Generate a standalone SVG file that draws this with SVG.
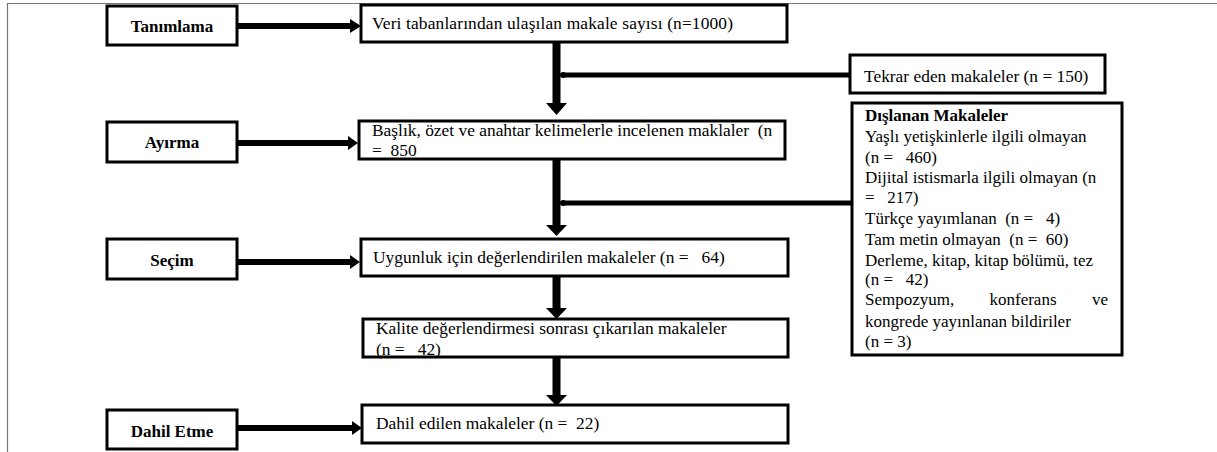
<svg xmlns="http://www.w3.org/2000/svg" width="1217" height="452" viewBox="0 0 1217 452">
<style>
.box{fill:#fff;stroke:#000;stroke-width:3}
.t{font-family:'Liberation Serif','Times New Roman',Times,'DejaVu Serif',serif;font-size:17px;fill:#000}
.m{font-size:17.4px}
.b{font-weight:bold;text-anchor:middle}
.line{stroke:#000;fill:none}
</style>
<rect width="1217" height="452" fill="#fff"/>
<path d="M7.5 452 V3.5 H1217" stroke="#777" stroke-width="1.2" fill="none"/>
<g id="connectors">
  <g class="line" stroke-width="6">
    <line x1="237" y1="26" x2="352" y2="26"/>
    <line x1="237" y1="143" x2="350" y2="143"/>
    <line x1="237" y1="262" x2="352" y2="262"/>
    <line x1="237" y1="428" x2="354" y2="428"/>
  </g>
  <g fill="#000">
    <polygon points="350,19 361,26 350,33"/>
    <polygon points="348,136 358,143 348,150"/>
    <polygon points="350,255 360,262 350,269"/>
    <polygon points="352,421 362,428 352,435"/>
  </g>
  <g class="line" stroke-width="8">
    <line x1="556.5" y1="42" x2="556.5" y2="104"/>
    <line x1="556.5" y1="159" x2="556.5" y2="226"/>
    <line x1="556.5" y1="276" x2="556.5" y2="310"/>
    <line x1="556.5" y1="357" x2="556.5" y2="396"/>
  </g>
  <g fill="#000">
    <polygon points="546,103 567,103 556.5,115"/>
    <polygon points="546,225 567,225 556.5,236"/>
    <polygon points="546,308 567,308 556.5,319"/>
    <polygon points="546,395 567,395 556.5,406"/>
  </g>
  <g class="line" stroke-width="5">
    <line x1="563" y1="75" x2="850" y2="75"/>
    <line x1="563" y1="203" x2="852" y2="203"/>
  </g>
  <circle cx="563" cy="75" r="3" fill="#000"/>
  <circle cx="563" cy="203" r="3" fill="#000"/>
</g>
<g id="n-tanimlama"><rect class="box" x="107" y="6" width="130" height="39"/><text class="t b" x="172" y="32">Tanımlama</text></g>
<g id="n-ayirma"><rect class="box" x="107" y="122" width="130" height="40"/><text class="t b" x="172" y="148">Ayırma</text></g>
<g id="n-secim"><rect class="box" x="107" y="239" width="130" height="40"/><text class="t b" x="172" y="266">Seçim</text></g>
<g id="n-dahiletme"><rect class="box" x="107" y="410" width="130" height="39"/><text class="t b" x="172" y="437">Dahil Etme</text></g>
<g id="n-veri"><rect class="box" x="361" y="5" width="426" height="37"/><text class="t m" x="372" y="29" textLength="361" lengthAdjust="spacing">Veri tabanlarından ulaşılan makale sayısı (n=1000)</text></g>
<g id="n-baslik"><rect class="box" x="359" y="121" width="426" height="38"/><text class="t m" x="372" y="136" xml:space="preserve">Başlık, özet ve anahtar kelimelerle incelenen maklaler  (n</text><text class="t m" x="372" y="156" xml:space="preserve">=  850</text></g>
<g id="n-uygunluk"><rect class="box" x="361" y="239" width="427" height="37"/><text class="t m" x="373" y="263" xml:space="preserve">Uygunluk için değerlendirilen makaleler (n =   64)</text></g>
<g id="n-kalite"><rect class="box" x="363" y="319" width="425" height="38"/><text class="t m" x="376" y="334">Kalite değerlendirmesi sonrası çıkarılan makaleler</text><text class="t m" x="376" y="355" xml:space="preserve">(n =   42)</text></g>
<g id="n-dahil"><rect class="box" x="362" y="405" width="426" height="38"/><text class="t m" x="376" y="429" xml:space="preserve">Dahil edilen makaleler (n =  22)</text></g>
<g id="n-tekrar"><rect class="box" x="850" y="55" width="255" height="38"/><text class="t m" x="864" y="82">Tekrar eden makaleler (n = 150)</text></g>
<g id="n-dislanan"><rect class="box" x="852" y="103" width="270" height="252"/>
<text class="t" x="865" y="121" font-weight="bold">Dışlanan Makaleler</text>
<text class="t" x="865" y="142">Yaşlı yetişkinlerle ilgili olmayan</text>
<text class="t" x="865" y="163" xml:space="preserve">(n =   460)</text>
<text class="t" x="865" y="183">Dijital istismarla ilgili olmayan (n</text>
<text class="t" x="865" y="203" xml:space="preserve">=   217)</text>
<text class="t" x="865" y="224" xml:space="preserve">Türkçe yayımlanan  (n =   4)</text>
<text class="t" x="865" y="245" xml:space="preserve">Tam metin olmayan  (n =  60)</text>
<text class="t" x="865" y="266">Derleme, kitap, kitap bölümü, tez</text>
<text class="t" x="865" y="285" xml:space="preserve">(n =   42)</text>
<text class="t" x="865" y="305">Sempozyum,</text><text class="t" x="1023" y="305" text-anchor="middle">konferans</text><text class="t" x="1108" y="305" text-anchor="end">ve</text>
<text class="t" x="865" y="327">kongrede yayınlanan bildiriler</text>
<text class="t" x="865" y="347">(n = 3)</text>
</g>
</svg>
